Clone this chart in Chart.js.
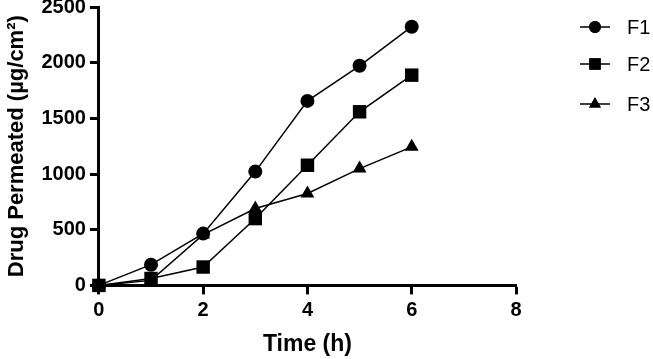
<!DOCTYPE html>
<html lang="en">
<head>
  <meta charset="UTF-8" />
  <title>Drug Permeation</title>
  <script src="https://cdn.jsdelivr.net/npm/chart.js"></script>
  <style>
    * { margin: 0; padding: 0; box-sizing: border-box; }
    body { background: #fff; }
    .wrap { width: 653px; height: 359px; overflow: hidden; position: relative; }
    .inner { position: absolute; left: 0; top: -9px; width: 653px; height: 368px; }
  </style>
</head>
<body>
  <div class="wrap"><div class="inner"><canvas id="permChart"></canvas></div></div>

  <script>
    // values
    const times = [0, 1, 2, 3, 4, 5, 6];
    const f1 = [0, 186, 465, 1022, 1657, 1972, 2323];
    const f2 = [0, 62, 165, 600, 1079, 1559, 1888];
    const f3 = [0, 45, 456, 690, 825, 1049, 1244];
    const seriesNames = ['F1', 'F2', 'F3'];
    const xTicks = [0, 2, 4, 6, 8];
    const yTicks = [0, 500, 1000, 1500, 2000, 2500];

    const FONT = "'Liberation Sans', Arial, sans-serif";
    const styles = [
      { pointStyle: 'circle', radius: 7 },
      { pointStyle: 'rect', radius: 9.5 },
      { pointStyle: 'triangle', radius: 8 }
    ];

    function toPoints(vals) {
      return times.map((t, i) => ({ x: t, y: vals[i] }));
    }

    const datasets = [f1, f2, f3].map((vals, i) => ({
      label: seriesNames[i],
      data: toPoints(vals),
      borderColor: '#000',
      backgroundColor: '#000',
      borderWidth: 1.5,
      pointStyle: styles[i].pointStyle,
      pointRadius: styles[i].radius,
      pointBorderWidth: 0,
      pointBackgroundColor: '#000',
      clip: false,
      tension: 0
    }));

    // legend on the right: short line with marker through it, then the name
    const sideLegend = {
      id: 'sideLegend',
      afterDraw(chart) {
        const ctx = chart.ctx;
        const ys = [36, 73, 113];
        ctx.save();
        chart.data.datasets.forEach((ds, i) => {
          const y = ys[i];
          ctx.strokeStyle = '#000';
          ctx.lineWidth = 1.5;
          ctx.beginPath();
          ctx.moveTo(580, y);
          ctx.lineTo(610, y);
          ctx.stroke();
          ctx.fillStyle = '#000';
          Chart.helpers.drawPoint(ctx, {
            pointStyle: ds.pointStyle,
            radius: ds.pointRadius * 0.85,
            borderWidth: 0,
            rotation: 0
          }, 595, y);
          ctx.fill();
          ctx.font = '20px ' + FONT;
          ctx.textBaseline = 'middle';
          ctx.textAlign = 'left';
          ctx.fillText(ds.label, 627, y + 1);
        });
        ctx.restore();
      }
    };

    const axisGrid = {
      drawOnChartArea: false,
      drawTicks: true,
      tickLength: 9,
      tickWidth: 3,
      tickColor: '#000'
    };

    new Chart(document.getElementById('permChart'), {
      type: 'line',
      data: { datasets },
      options: {
        responsive: true,
        maintainAspectRatio: false,
        animation: false,
        layout: { padding: { left: 4, right: 137, top: -8, bottom: 1 } },
        plugins: {
          legend: { display: false },
          tooltip: { enabled: false }
        },
        scales: {
          x: {
            type: 'linear',
            min: 0,
            max: 8,
            afterBuildTicks: (axis) => { axis.ticks = xTicks.map(v => ({ value: v })); },
            grid: axisGrid,
            border: { display: true, color: '#000', width: 3 },
            ticks: {
              color: '#000',
              padding: 4,
              callback: (v) => String(v),
              font: { family: FONT, size: 20, weight: 'bold' }
            },
            title: {
              display: true,
              text: 'Time (h)',
              color: '#000',
              padding: { top: 4, bottom: 0 },
              font: { family: FONT, size: 23, weight: 'bold' }
            }
          },
          y: {
            min: 0,
            max: 2500,
            afterBuildTicks: (axis) => { axis.ticks = yTicks.map(v => ({ value: v })); },
            grid: axisGrid,
            border: { display: true, color: '#000', width: 3 },
            ticks: {
              color: '#000',
              padding: 4,
              callback: (v) => String(v),
              font: { family: FONT, size: 20, weight: 'bold' }
            },
            title: {
              display: true,
              text: 'Drug Permeated (µg/cm²)',
              color: '#000',
              padding: { top: 0, bottom: 7 },
              font: { family: FONT, size: 22, weight: 'bold' }
            }
          }
        }
      },
      plugins: [sideLegend]
    });
  </script>
</body>
</html>
